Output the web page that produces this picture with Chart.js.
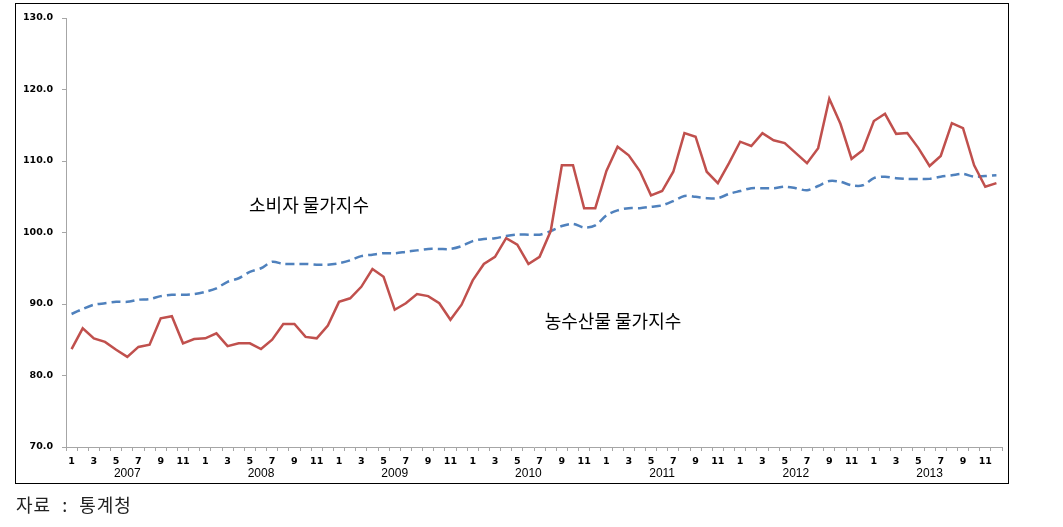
<!DOCTYPE html>
<html>
<head>
<meta charset="utf-8">
<script src="https://cdn.jsdelivr.net/npm/chart.js@4/dist/chart.umd.min.js"></script>
<style>
    body { margin: 0; background: #fff; }
    #wrap { position: relative; width: 1063px; height: 527px; }
    #frame { position: absolute; left: 15px; top: 3px; width: 994px; height: 481px; box-sizing: border-box; border: 1.5px solid #000; }
    canvas { position: absolute; left: 0; top: 0; }
    .note { position: absolute; font-family: "Noto Sans CJK KR", sans-serif; color: #000; white-space: nowrap; transform: translate(-50%, -50%); }
    #source { position: absolute; left: 16px; top: 491px; font-family: "Noto Sans CJK KR", sans-serif; font-size: 18px; color: #222; word-spacing: 6px; letter-spacing: 1px; }
</style>
</head>
<body>
<div id="wrap">
    <div id="frame"></div>
    <canvas id="priceCanvas" width="1063" height="527"></canvas>
    <div class="note" style="left:309px; top:204px; font-size:18px;">소비자 물가지수</div>
    <div class="note" style="left:613px; top:320px; font-size:18px;">농수산물 물가지수</div>
    <div id="source">자료 : 통계청</div>
</div>
<script>
'use strict';

const years = ['2007', '2008', '2009', '2010', '2011', '2012', '2013'];
const months = [1, 2, 3, 4, 5, 6, 7, 8, 9, 10, 11, 12];
const yTicks = [70, 80, 90, 100, 110, 120, 130];

// 농수산물 물가지수 (monthly, 2007.1 - 2013.12)
const agriIndex = [
    83.7, 86.6, 85.2, 84.7, 83.6, 82.6, 84.0, 84.3, 88.0, 88.3, 84.5, 85.1,
    85.2, 85.9, 84.1, 84.5, 84.5, 83.7, 85.0, 87.2, 87.2, 85.4, 85.2, 87.0,
    90.3, 90.8, 92.4, 94.9, 93.8, 89.2, 90.1, 91.4, 91.1, 90.1, 87.8, 89.9,
    93.3, 95.6, 96.6, 99.2, 98.3, 95.6, 96.6, 100.2, 109.4, 109.4, 103.4, 103.4,
    108.6, 112.0, 110.8, 108.6, 105.2, 105.8, 108.5, 113.9, 113.4, 108.5, 106.9, 109.7,
    112.7, 112.1, 113.9, 112.9, 112.5, 111.1, 109.7, 111.8, 118.7, 115.2, 110.3, 111.5,
    115.6, 116.6, 113.8, 113.9, 111.8, 109.3, 110.7, 115.3, 114.6, 109.4, 106.4, 106.9
];

// 소비자 물가지수
const cpiIndex = [
    88.6, 89.3, 89.9, 90.1, 90.3, 90.3, 90.6, 90.7, 91.1, 91.3, 91.3, 91.4,
    91.7, 92.2, 93.1, 93.6, 94.5, 95.0, 95.9, 95.6, 95.6, 95.6, 95.5, 95.5,
    95.7, 96.1, 96.7, 96.9, 97.1, 97.1, 97.3, 97.5, 97.7, 97.7, 97.7, 98.1,
    98.8, 99.1, 99.2, 99.5, 99.7, 99.7, 99.7, 100.2, 100.9, 101.2, 100.7, 101.0,
    102.4, 103.1, 103.4, 103.4, 103.6, 103.8, 104.4, 105.1, 105.0, 104.8, 104.8, 105.4,
    105.8, 106.2, 106.2, 106.2, 106.4, 106.2, 105.9, 106.5, 107.2, 107.1, 106.6, 106.6,
    107.6, 107.8, 107.6, 107.5, 107.5, 107.5, 107.8, 108.0, 108.2, 107.8, 107.9, 108.0
];

// categories: one per month
const categories = [];
for (let y = 0; y < years.length; y++) {
    for (let m = 0; m < months.length; m++) {
        categories.push(years[y] + '.' + months[m]);
    }
}

function tickLabel(index) {
    const month = months[index % 12];
    const year = years[Math.floor(index / 12)];
    if (month === 6) {
        return ['', year];
    }
    if (month % 2 === 1) {
        return String(month);
    }
    return '';
}

const canvas = document.getElementById('priceCanvas');
const context = canvas.getContext('2d');

const chart = new Chart(context, {
    type: 'line',
    data: {
        labels: categories,
        datasets: [
            {
                label: '농수산물 물가지수',
                data: agriIndex,
                borderColor: '#C0504D',
                borderWidth: 2.5,
                pointRadius: 0,
                tension: 0,
                fill: false
            },
            {
                label: '소비자 물가지수',
                data: cpiIndex,
                borderColor: '#4F81BD',
                borderWidth: 2.5,
                borderDash: [9, 5],
                pointRadius: 0,
                tension: 0.3,
                fill: false
            }
        ]
    },
    options: {
        responsive: false,
        animation: false,
        layout: {
            padding: { left: 0, top: 18, right: 61, bottom: 0 }
        },
        plugins: {
            legend: { display: false },
            tooltip: { enabled: false }
        },
        scales: {
            x: {
                offset: true,
                afterFit: function (scale) { scale.height = 80; },
                grid: {
                    offset: true,
                    drawOnChartArea: false,
                    drawTicks: true,
                    tickLength: 4,
                    color: '#a6a6a6'
                },
                border: { display: true, color: '#a6a6a6', width: 1 },
                ticks: {
                    autoSkip: false,
                    maxRotation: 0,
                    minRotation: 0,
                    padding: 4,
                    color: '#000',
                    callback: function (value, index) { return tickLabel(index); },
                    font: function (ctx) {
                        if (ctx.index % 12 === 5) {
                            return { family: 'Liberation Sans', size: 12, weight: 'normal', lineHeight: '12.5px' };
                        }
                        return { family: 'DejaVu Sans', size: 9.5, weight: 'bold', lineHeight: '12.5px' };
                    }
                }
            },
            y: {
                min: 70,
                max: 130,
                afterFit: function (scale) { scale.width = 66; },
                afterBuildTicks: function (scale) {
                    scale.ticks = yTicks.map(function (v) { return { value: v }; });
                },
                grid: {
                    drawOnChartArea: false,
                    drawTicks: true,
                    tickLength: 4,
                    color: '#a6a6a6'
                },
                border: { display: true, color: '#a6a6a6', width: 1 },
                ticks: {
                    padding: 9,
                    color: '#000',
                    font: { family: 'DejaVu Sans', size: 9.5, weight: 'bold' },
                    callback: function (value) { return Number(value).toFixed(1); }
                }
            }
        }
    }
});
</script>
</body>
</html>
